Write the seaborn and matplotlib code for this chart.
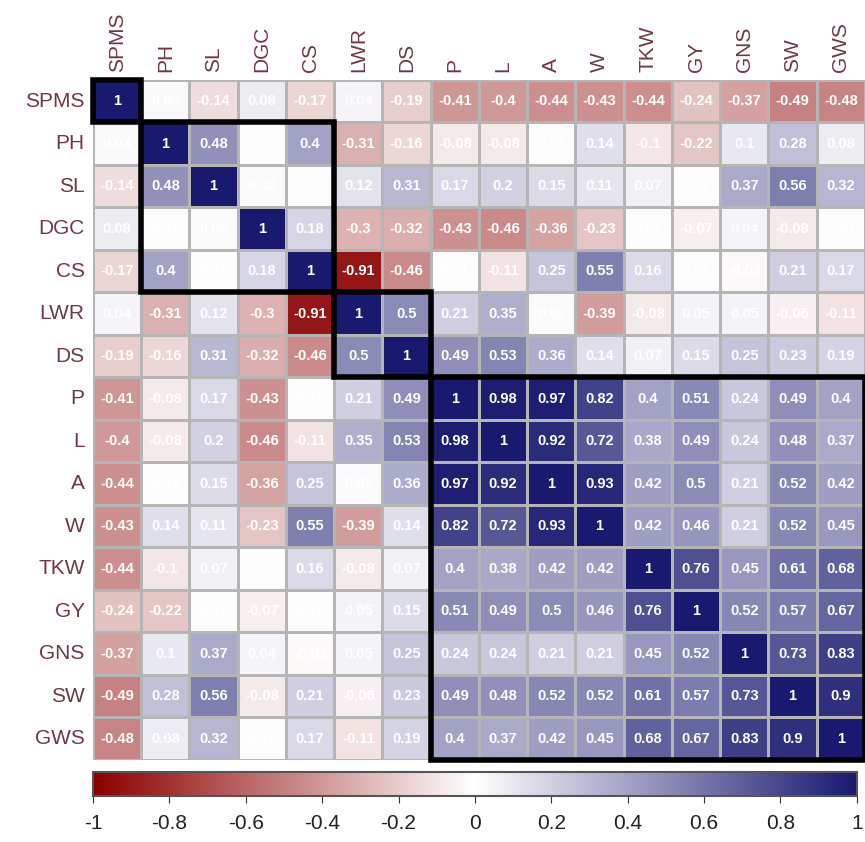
import numpy as np
import pandas as pd
import seaborn as sns
import matplotlib.pyplot as plt
from matplotlib.colors import LinearSegmentedColormap
from matplotlib.patches import Rectangle

plt.rcParams['font.family'] = ['Liberation Sans', 'DejaVu Sans']

# trait names
traits = ["SPMS", "PH", "SL", "DGC", "CS", "LWR", "DS", "P", "L", "A", "W",
          "TKW", "GY", "GNS", "SW", "GWS"]

# lower triangle of the correlation matrix, row by row
r_spms = [1]
r_ph = [0.03, 1]
r_sl = [-0.14, 0.48, 1]
r_dgc = [0.08, 0.01, 0.02, 1]
r_cs = [-0.17, 0.4, 0.01, 0.18, 1]
r_lwr = [0.04, -0.31, 0.12, -0.3, -0.91, 1]
r_ds = [-0.19, -0.16, 0.31, -0.32, -0.46, 0.5, 1]
r_p = [-0.41, -0.08, 0.17, -0.43, 0.01, 0.21, 0.49, 1]
r_l = [-0.4, -0.08, 0.2, -0.46, -0.11, 0.35, 0.53, 0.98, 1]
r_a = [-0.44, 0.01, 0.15, -0.36, 0.25, 0.02, 0.36, 0.97, 0.92, 1]
r_w = [-0.43, 0.14, 0.11, -0.23, 0.55, -0.39, 0.14, 0.82, 0.72, 0.93, 1]
r_tkw = [-0.44, -0.1, 0.07, 0.01, 0.16, -0.08, 0.07, 0.4, 0.38, 0.42, 0.42, 1]
r_gy = [-0.24, -0.22, 0.01, -0.07, 0.01, 0.05, 0.15, 0.51, 0.49, 0.5, 0.46, 0.76, 1]
r_gns = [-0.37, 0.1, 0.37, 0.04, -0.03, 0.05, 0.25, 0.24, 0.24, 0.21, 0.21, 0.45, 0.52, 1]
r_sw = [-0.49, 0.28, 0.56, -0.08, 0.21, -0.06, 0.23, 0.49, 0.48, 0.52, 0.52, 0.61, 0.57, 0.73, 1]
r_gws = [-0.48, 0.08, 0.32, 0.01, 0.17, -0.11, 0.19, 0.4, 0.37, 0.42, 0.45, 0.68, 0.67, 0.83, 0.9, 1]

# trait groups that get a black box
groups = [["SPMS"], ["PH", "SL", "DGC", "CS"], ["LWR", "DS"],
          ["P", "L", "A", "W", "TKW", "GY", "GNS", "SW", "GWS"]]

cbar_ticks = [-1, -0.8, -0.6, -0.4, -0.2, 0, 0.2, 0.4, 0.6, 0.8, 1]

rows = [r_spms, r_ph, r_sl, r_dgc, r_cs, r_lwr, r_ds, r_p, r_l, r_a, r_w,
        r_tkw, r_gy, r_gns, r_sw, r_gws]
n = len(traits)
mat = np.zeros((n, n))
for i, r in enumerate(rows):
    for j, v in enumerate(r):
        mat[i, j] = v
        mat[j, i] = v
corr = pd.DataFrame(mat, index=traits, columns=traits)
labels = corr.map(lambda v: f"{v:g}")

cmap = LinearSegmentedColormap.from_list("rwb", ["#8b0000", "#ffffff", "#191970"])

fig = plt.figure(figsize=(8.65, 8.42), dpi=100)
ax = fig.add_axes([0.1075, 0.0974, 0.8925, 0.8076])
cax = fig.add_axes([0.1075, 0.0546, 0.8830, 0.0290])

sns.heatmap(corr, ax=ax, cmap=cmap, vmin=-1, vmax=1, annot=labels, fmt="",
            annot_kws={"color": "white", "fontsize": 10.5, "fontweight": "bold"},
            linewidths=1, linecolor="#b5b5b5", cbar=True, cbar_ax=cax,
            cbar_kws={"orientation": "horizontal", "ticks": cbar_ticks})

label_col = "#6e3a42"
ax.xaxis.tick_top()
ax.set_xticklabels(traits, rotation=90, fontsize=15, color=label_col)
ax.set_yticklabels(traits, rotation=0, fontsize=15, color=label_col)
ax.tick_params(length=0, pad=6)
ax.set_xlabel("")
ax.set_ylabel("")

# black boxes around trait groups
start = 0
for g in groups:
    k = len(g)
    ax.add_patch(Rectangle((start, start), k, k, fill=False, edgecolor="black",
                           lw=4, clip_on=False, zorder=5))
    start += k

cax.tick_params(labelsize=15, length=5, color="#333333", labelcolor="#222222", pad=8)
cax.set_xticklabels([f"{t:g}" for t in cbar_ticks],
                    family=["Liberation Sans Narrow", "Liberation Sans"])
for s in cax.spines.values():
    s.set_edgecolor("#555555")
    s.set_linewidth(1.5)

fig.savefig("out.png", dpi=100)
